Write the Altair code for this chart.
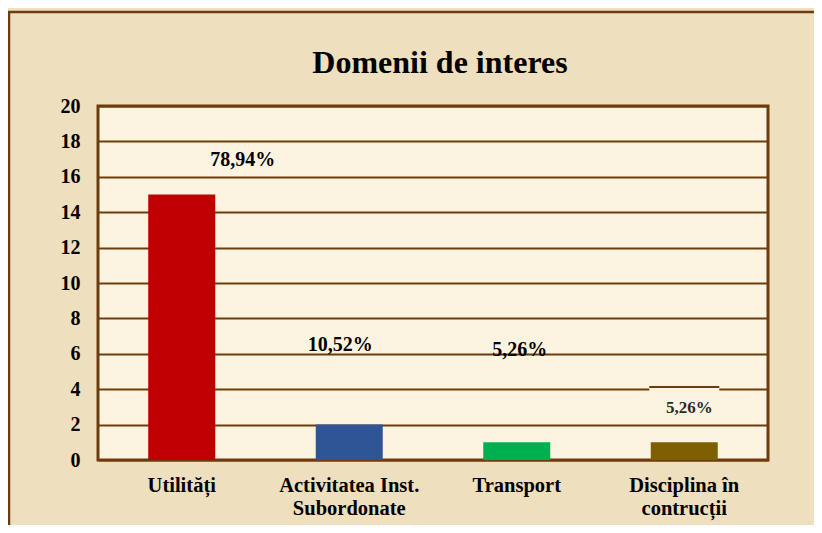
import altair as alt
import pandas as pd

# ---- data ----
categories = ["Utilități", "Activitatea Inst.|Subordonate", "Transport", "Disciplina în|contrucții"]
values = [15, 2, 1, 1]
percent_labels = ["78,94%", "10,52%", "5,26%", "5,26%"]
bar_colors = ["#C00000", "#2F5597", "#00B050", "#7F6000"]
y_ticks = list(range(0, 21, 2))

df = pd.DataFrame({"cat": categories, "value": values, "pct": percent_labels})

BROWN = "#6E3C0C"
PARCH = "#EEDFBE"
PLOT_BG = "#FCF4E1"
FONT = "Liberation Serif"

x_enc = alt.X("cat:N", sort=categories,
              scale=alt.Scale(domain=categories, paddingInner=0.6, paddingOuter=0.3),
              axis=alt.Axis(title=None, labelAngle=0, ticks=False, domain=False,
                            labelExpr="split(datum.label, '|')",
                            labelFont=FONT, labelFontSize=20.5, labelFontWeight="bold",
                            labelColor="black", labelPadding=15, labelLineHeight=23))
y_axis = alt.Axis(title=None, values=y_ticks, ticks=False, domain=False, labelOverlap=False,
                  grid=True, gridColor=BROWN, gridWidth=2, gridOpacity=1,
                  labelFont=FONT, labelFontSize=20, labelFontWeight="bold",
                  labelColor="black", labelPadding=18)
y_scale = alt.Scale(domain=[0, 20], nice=False)
y_enc = alt.Y("value:Q", scale=y_scale, axis=y_axis)

base = alt.Chart(df)

bars = base.mark_bar().encode(
    x=x_enc, y=y_enc,
    color=alt.Color("cat:N", sort=categories,
                    scale=alt.Scale(domain=categories, range=bar_colors), legend=None),
)

# box behind the last label
last = base.transform_filter(alt.datum.cat == categories[3])
box = last.mark_bar(width=70, color=PLOT_BG).encode(
    x=x_enc, y=alt.Y(datum=4.08, scale=y_scale, axis=y_axis), y2=alt.datum(2.12))
box_top = last.mark_tick(size=70, thickness=2, color=BROWN, opacity=1).encode(
    x=x_enc, y=alt.Y(datum=4.12, scale=y_scale, axis=y_axis))

label_styles = [
    dict(dx=61, dy=-35, fontSize=20, color="black"),
    dict(dx=-9, dy=-80, fontSize=20, color="black"),
    dict(dx=3, dy=-92, fontSize=20, color="black"),
    dict(dx=5, dy=-34, fontSize=17, color="#2a2a2a"),
]
labels = []
for cat, st in zip(categories, label_styles):
    labels.append(
        base.transform_filter(alt.datum.cat == cat).mark_text(
            font=FONT, fontWeight="bold", baseline="middle", align="center", **st
        ).encode(x=x_enc, y=y_enc, text="pct:N")
    )

one = alt.Chart(pd.DataFrame({"a": [0]}))
frame_left = one.mark_rule(color=BROWN, strokeWidth=2.5).encode(
    x=alt.value(-89), y=alt.value(-94), y2=alt.value(460))
frame_top = one.mark_rule(color=BROWN, strokeWidth=2.5).encode(
    x=alt.value(-92), x2=alt.value(800), y=alt.value(-94))

chart = alt.layer(bars, box, box_top, *labels, frame_left, frame_top).properties(
    width=670, height=354,
    title=alt.TitleParams("Domenii de interes", font=FONT, fontSize=32,
                          fontWeight="bold", color="black", dx=7, dy=125, offset=31,
                          frame="group", baseline="alphabetic"),
    background=PARCH,
    padding={"left": 90, "top": 98, "right": 46, "bottom": 65},
    autosize=alt.AutoSizeParams(type="none"),
).configure_view(
    fill=PLOT_BG, stroke=BROWN, strokeWidth=3
)

chart.save("out.html", embed_options={"renderer": "svg", "actions": False})
